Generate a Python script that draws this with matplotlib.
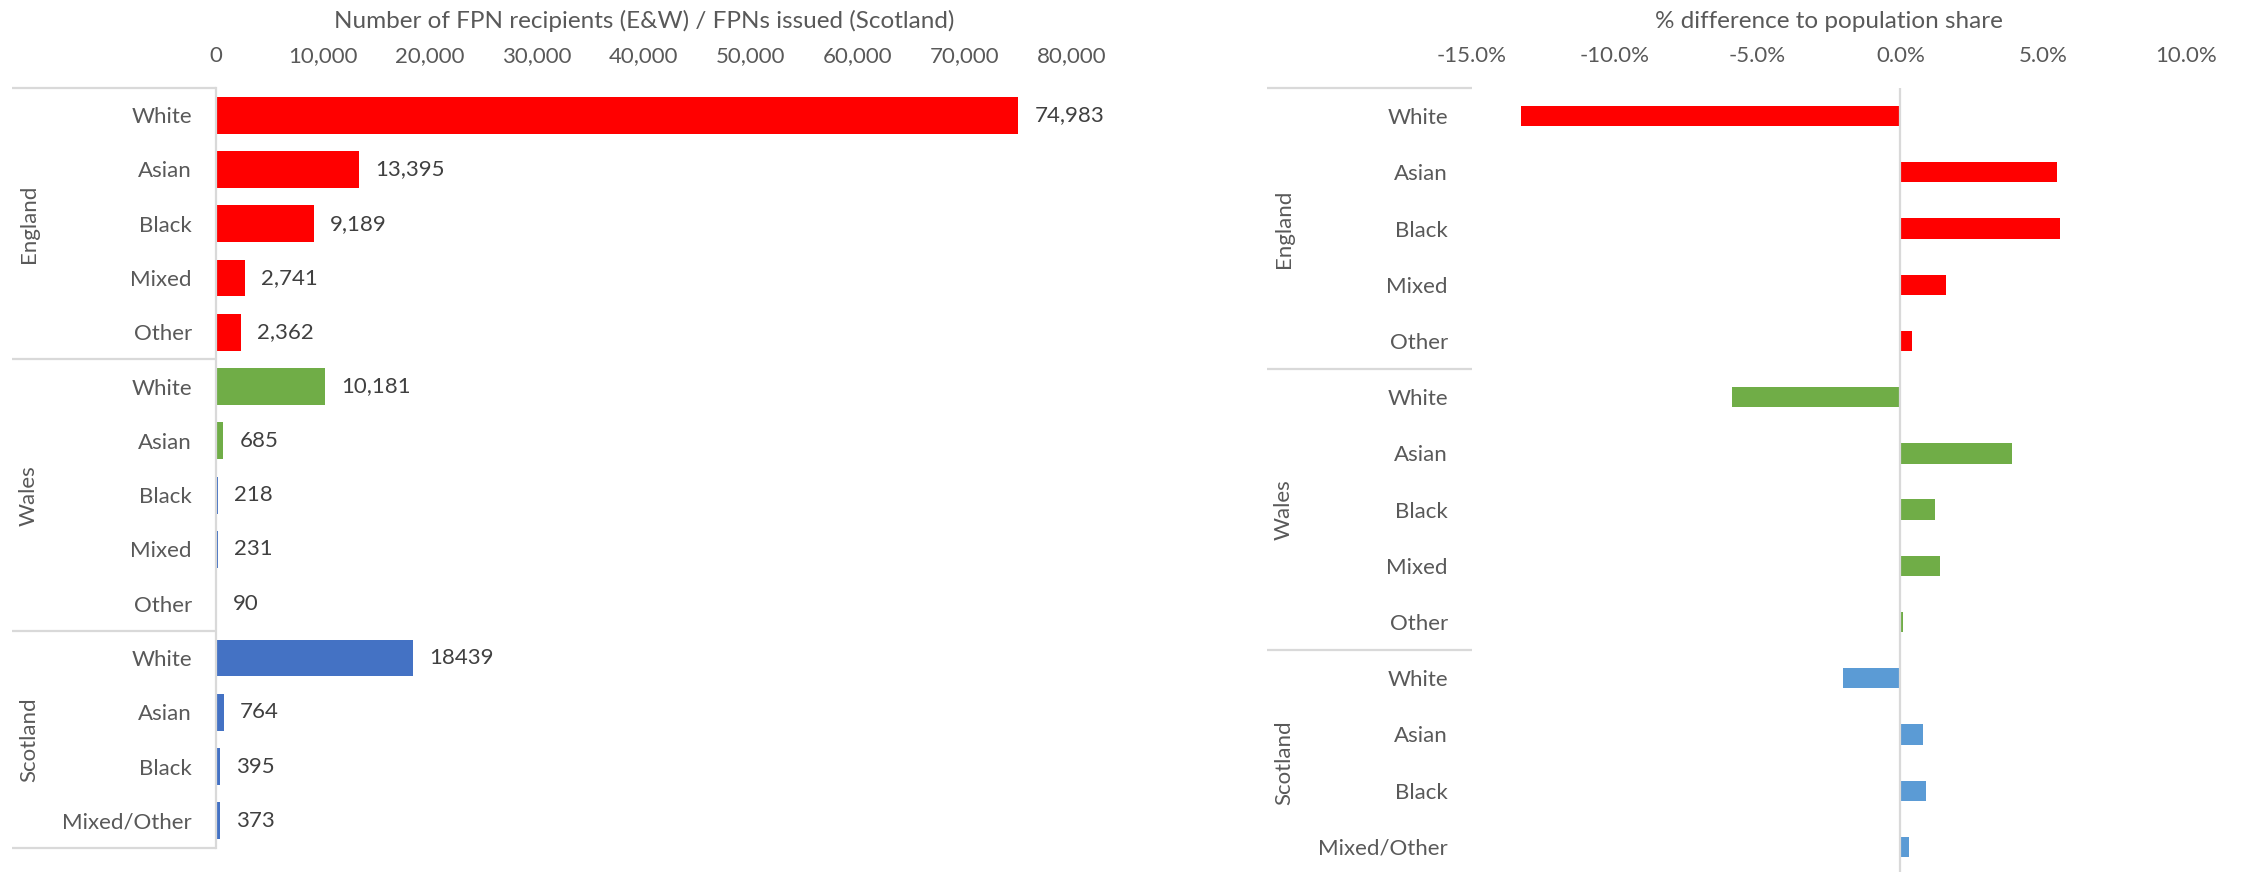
import matplotlib
matplotlib.use("Agg")
import matplotlib.pyplot as plt
from matplotlib.ticker import FuncFormatter, MultipleLocator
import matplotlib.transforms as mtransforms

# ---- data ----
nations = ["England", "Wales", "Scotland"]
ew_groups = ["White", "Asian", "Black", "Mixed", "Other"]
scotland_groups = ["White", "Asian", "Black", "Mixed/Other"]

england_fpn = [74983, 13395, 9189, 2741, 2362]
wales_fpn = [10181, 685, 218, 231, 90]
scotland_fpn = [18439, 764, 395, 373]

england_diff = [-13.3, 5.5, 5.6, 1.6, 0.4]
wales_diff = [-5.9, 3.9, 1.2, 1.4, 0.1]
scotland_diff = [-2.0, 0.8, 0.9, 0.3]

left_title = "Number of FPN recipients (E&W) / FPNs issued (Scotland)"
right_title = "% difference to population share"

# ---- style ----
FONT = "Lato"
TXT = "#595959"
GRID = "#D9D9D9"
FS = 16
FS_TITLE = 17.5
left_colors = {"England": "#FF0000", "Wales": "#70AD47", "Scotland": "#4472C4"}
right_colors = {"England": "#FF0000", "Wales": "#70AD47", "Scotland": "#5B9BD5"}
# thin Wales bars render with a bluish outline
wales_thin_colors = [None, None, "#4472C4", "#4472C4", "#C9D6EE"]

plt.rcParams["font.family"] = [FONT, "DejaVu Sans"]

W, H = 2243, 872
fig = plt.figure(figsize=(W / 100, H / 100), dpi=100)

group_cats = [ew_groups, ew_groups, scotland_groups]
fpn_values = [england_fpn, wales_fpn, scotland_fpn]
diff_values = [england_diff, wales_diff, scotland_diff]

# flatten into rows
rows = []
for n, cats, fv, dv in zip(nations, group_cats, fpn_values, diff_values):
    for j, (c, f, d) in enumerate(zip(cats, fv, dv)):
        rows.append((n, j, c, f, d))
ypos = list(range(len(rows)))
labels = [r[2] for r in rows]


def px(v):
    return v / 100 * 72  # pixels to points at dpi 100


def draw_table(ax, ax_left_px, ax_width_px, table_left_px):
    """Category labels, group separators and rotated nation labels."""
    ax.set_yticks(ypos)
    ax.set_yticklabels(labels, fontsize=FS, color=TXT)
    ax.tick_params(axis="y", length=0, pad=px(24))
    ax.set_ylim(len(rows) - 0.5, -0.5)
    trans = mtransforms.blended_transform_factory(ax.transAxes, ax.transData)
    x0 = (table_left_px - ax_left_px) / ax_width_px
    xlab = (table_left_px + 17 - ax_left_px) / ax_width_px
    start = 0
    bounds = [-0.5]
    for n, cats in zip(nations, group_cats):
        end = start + len(cats)
        bounds.append(end - 0.5)
        ax.text(xlab, (start + end - 1) / 2, n, rotation=90, transform=trans,
                ha="center", va="center", fontsize=FS, color=TXT)
        start = end
    for b in bounds:
        ax.plot([x0, 0], [b, b], transform=trans, color=GRID, lw=1.6,
                clip_on=False, solid_capstyle="butt")


# ---- left panel: counts ----
L_left, L_right, L_top, L_bot = 216, 1072, 88, 848
axL = fig.add_axes([L_left / W, 1 - L_bot / H, (L_right - L_left) / W, (L_bot - L_top) / H])
lcolors = []
for n, j, c, f, d in rows:
    col = left_colors[n]
    if n == "Wales" and wales_thin_colors[j]:
        col = wales_thin_colors[j]
    lcolors.append(col)
axL.barh(ypos, [r[3] for r in rows], height=0.68, color=lcolors, zorder=2)
axL.set_xlim(0, 80000)
axL.xaxis.set_major_locator(MultipleLocator(10000))
axL.xaxis.set_major_formatter(FuncFormatter(lambda v, p: f"{v:,.0f}"))
axL.xaxis.tick_top()
axL.tick_params(axis="x", length=0, pad=px(22), labelsize=FS, labelcolor=TXT)
for s in ["top", "right", "bottom"]:
    axL.spines[s].set_visible(False)
axL.spines["left"].set_color(GRID)
axL.spines["left"].set_linewidth(1.6)
for y, (n, j, c, f, d) in zip(ypos, rows):
    txt = f"{f}" if n == "Scotland" else f"{f:,}"
    axL.annotate(txt, (f, y), xytext=(px(16), 0), textcoords="offset points",
                 ha="left", va="center", fontsize=FS, color="#404040")
axL.annotate(left_title, (0.5, 1), xycoords="axes fraction", xytext=(0, px(67)),
             textcoords="offset points", ha="center", va="center", fontsize=FS_TITLE, color=TXT)
draw_table(axL, L_left, L_right - L_left, 12)

# ---- right panel: % difference ----
R_left, R_right, R_top, R_bot = 1472, 2186, 88, 875
axR = fig.add_axes([R_left / W, 1 - R_bot / H, (R_right - R_left) / W, (R_bot - R_top) / H])
rcolors = [right_colors[r[0]] for r in rows]
axR.barh(ypos, [r[4] for r in rows], height=0.36, color=rcolors, zorder=2)
axR.axvline(0, color=GRID, lw=1.6, zorder=3)
axR.set_xlim(-15, 10)
axR.xaxis.set_major_locator(MultipleLocator(5))
axR.xaxis.set_major_formatter(FuncFormatter(lambda v, p: f"{v:.1f}%"))
axR.xaxis.tick_top()
axR.tick_params(axis="x", length=0, pad=px(22), labelsize=FS, labelcolor=TXT)
for s in axR.spines.values():
    s.set_visible(False)
axR.annotate(right_title, (0.5, 1), xycoords="axes fraction", xytext=(0, px(67)),
             textcoords="offset points", ha="center", va="center", fontsize=FS_TITLE, color=TXT)
draw_table(axR, R_left, R_right - R_left, 1267)

fig.savefig("out.png", dpi=100, facecolor="white")
